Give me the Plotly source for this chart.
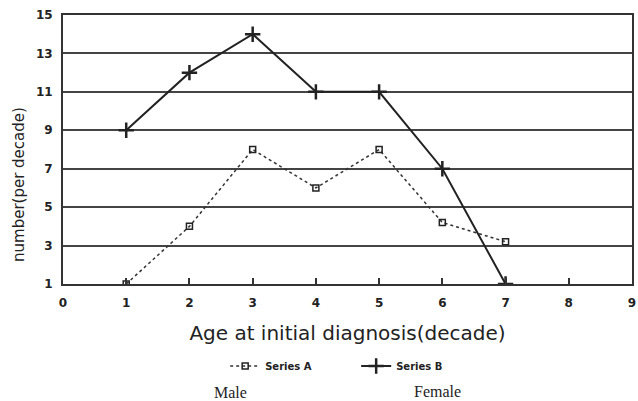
import plotly.graph_objects as go

decades = [1, 2, 3, 4, 5, 6, 7]
series_a = [1, 4, 8, 6, 8, 4.2, 3.2]
series_b = [9, 12, 14, 11, 11, 7, 1]
x_ticks = [0, 1, 2, 3, 4, 5, 6, 7, 8, 9]
y_ticks = [1, 3, 5, 7, 9, 11, 13, 15]

TICK_FONT = dict(size=12, family="DejaVu Sans, sans-serif", color="#222222", weight="bold")

fig = go.Figure()
fig.add_trace(go.Scatter(
    x=decades, y=series_a, name="Series A", mode="lines+markers",
    line=dict(color="#333333", width=1.5, dash="dot"),
    marker=dict(symbol="square-open", size=6, color="#222222", line=dict(width=1.5)),
))
fig.add_trace(go.Scatter(
    x=decades, y=series_b, name="Series B", mode="lines+markers",
    line=dict(color="#222222", width=2),
    marker=dict(symbol="cross-thin", size=11, color="#222222", line=dict(width=2.5, color="#222222")),
))

fig.update_layout(
    width=638, height=401,
    margin=dict(l=63, r=6, t=15, b=117, autoexpand=False),
    paper_bgcolor="white", plot_bgcolor="white",
    font=dict(family="DejaVu Sans, sans-serif", color="#222222"),
    showlegend=True,
    legend=dict(orientation="h", x=0.285, xanchor="left", y=(284 - 366) / 269, yanchor="middle",
                font=dict(size=10, family="DejaVu Sans, sans-serif", weight="bold"),
                itemwidth=30, entrywidth=86, bgcolor="rgba(0,0,0,0)"),
)
fig.update_xaxes(
    range=[0, 9], tickvals=x_ticks, ticktext=[str(v) for v in x_ticks],
    showgrid=False, zeroline=False, automargin=False,
    showline=True, linecolor="#333333", linewidth=2, mirror=True,
    ticks="inside", ticklen=6, tickwidth=1.5, tickcolor="#333333",
    ticklabelstandoff=7,
    tickfont=TICK_FONT,
    title=dict(text="Age at initial diagnosis(decade)",
               font=dict(size=20, family="DejaVu Sans, sans-serif"), standoff=17),
)
fig.update_yaxes(
    range=[1, 15], tickvals=y_ticks, ticktext=[str(v) for v in y_ticks],
    showgrid=True, gridcolor="#444444", gridwidth=2, zeroline=False, automargin=False,
    showline=True, linecolor="#333333", linewidth=2, mirror=True,
    ticks="", ticklabelstandoff=6,
    tickfont=TICK_FONT,
)
fig.add_annotation(text="number(per decade)", textangle=-90,
                   x=(19 - 63) / 569, y=(284 - 185) / 269, xref="paper", yref="paper",
                   xanchor="center", yanchor="middle",
                   showarrow=False, font=dict(family="DejaVu Sans, sans-serif", size=15, color="#222222"))
fig.add_annotation(text="Male", x=(230 - 63) / 569, y=(284 - 392) / 269, xref="paper", yref="paper",
                   xanchor="center", yanchor="middle",
                   showarrow=False, font=dict(family="Liberation Serif, serif", size=16, color="#222222"))
fig.add_annotation(text="Female", x=(437 - 63) / 569, y=(284 - 391) / 269, xref="paper", yref="paper",
                   xanchor="center", yanchor="middle",
                   showarrow=False, font=dict(family="Liberation Serif, serif", size=16, color="#222222"))

fig.write_html("out.html", config={"displayModeBar": False},
               post_script="document.body.style.margin='0';document.body.style.overflow='hidden';")
